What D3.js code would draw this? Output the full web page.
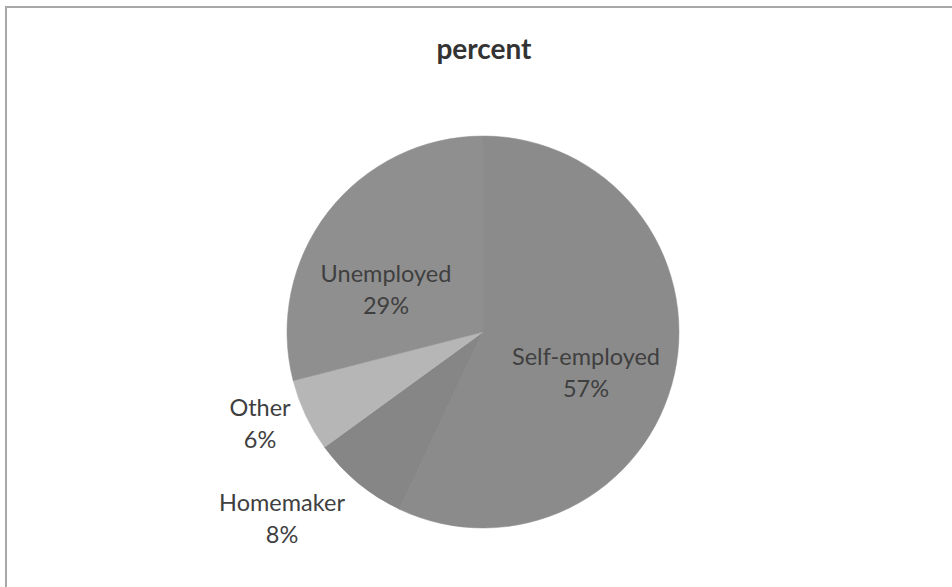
<!DOCTYPE html>
<html>
<head>
<meta charset="utf-8">
<script src="https://cdn.jsdelivr.net/npm/d3@7"></script>
<style>
  html, body { margin: 0; padding: 0; background: #fff; }
  svg { display: block; }
  text { font-family: Lato, "Open Sans", sans-serif; fill: #3f3f3f; }
</style>
</head>
<body>
<svg id="chart" width="952" height="587"></svg>
<script>
// Employment status shares (percent)
const categories = ["Self-employed", "Homemaker", "Other", "Unemployed"];
const values = [57, 8, 6, 29];
const sliceColors = ["#8b8b8b", "#868686", "#b6b6b6", "#8f8f8f"];
// Label anchor points (centre x, first-line baseline) per slice
const labelPos = [[586, 365], [282, 511], [260, 416], [386, 282]];

const svg = d3.select("#chart");
const W = 952, H = 587;
const cx = 483, cy = 332, r = 196;

// Chart frame (top and left edges visible)
svg.append("path")
  .attr("d", `M6,${H} L6,7 L${W},7`)
  .attr("fill", "none")
  .attr("stroke", "#a8a8a8")
  .attr("stroke-width", 2);

svg.append("text")
  .attr("x", 484).attr("y", 59)
  .attr("text-anchor", "middle")
  .attr("font-size", 28)
  .attr("font-weight", "bold")
  .style("fill", "#333")
  .text("percent");

const data = categories.map((c, i) => ({ name: c, value: values[i], color: sliceColors[i], pos: labelPos[i] }));

const pie = d3.pie().value(d => d.value).sort(null);
const arc = d3.arc().innerRadius(0).outerRadius(r);

const g = svg.append("g").attr("transform", `translate(${cx},${cy})`);
g.selectAll("path.slice")
  .data(pie(data))
  .join("path")
  .attr("class", "slice")
  .attr("d", arc)
  .attr("fill", d => d.data.color)
  .attr("stroke", d => d.data.color)
  .attr("stroke-width", 0.5);

const labels = svg.selectAll("g.label")
  .data(data)
  .join("g")
  .attr("class", "label")
  .attr("transform", d => `translate(${d.pos[0]},${d.pos[1]})`);

labels.append("text")
  .attr("text-anchor", "middle")
  .attr("y", 0)
  .attr("font-size", 23.5)
  .text(d => d.name);

labels.append("text")
  .attr("text-anchor", "middle")
  .attr("y", 32)
  .attr("font-size", 23.5)
  .text(d => d.value + "%");
</script>
</body>
</html>
